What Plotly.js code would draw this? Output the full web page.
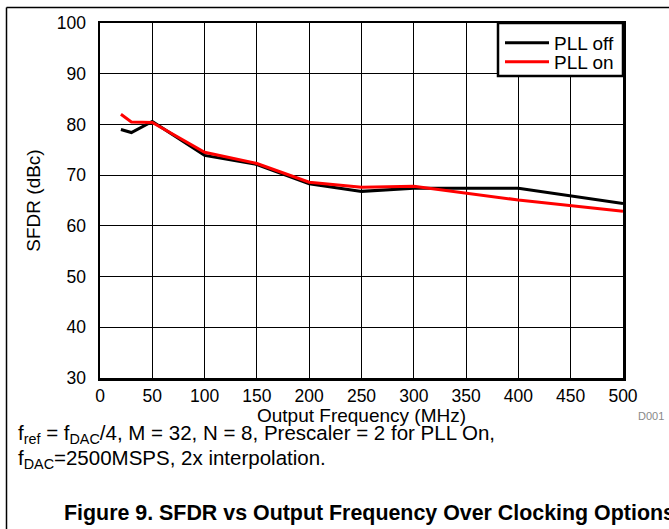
<!DOCTYPE html>
<html>
<head>
<meta charset="utf-8">
<script src="https://cdn.plot.ly/plotly-3.0.1.min.js"></script>
<style>html,body{margin:0;padding:0;background:#fff;}#chart{width:669px;height:529px;}</style>
</head>
<body>
<div id="chart"></div>
<script>
// Data
const freqMHz = [20, 30, 50, 100, 150, 200, 250, 300, 400, 500];
const pllOff  = [79.0, 78.4, 80.6, 73.9, 72.1, 68.3, 66.8, 67.4, 67.4, 64.4];
const pllOn   = [82.0, 80.5, 80.4, 74.5, 72.3, 68.6, 67.6, 67.8, 65.1, 62.9];
const seriesNames = ["PLL off", "PLL on"];
const xTicks = [0, 50, 100, 150, 200, 250, 300, 350, 400, 450, 500];
const yTicks = [30, 40, 50, 60, 70, 80, 90, 100];

const FONT = "Arial, 'Liberation Sans', sans-serif";
// plot area: x 100..623, y 23..378 in pixels
const L = 100, R = 623, T = 23, B = 378, W = 669, H = 529;
const px = v => (v - L) / (R - L);
const py = v => (B - v) / (B - T);

const traces = [
  {x: freqMHz, y: pllOff, name: seriesNames[0], mode: "lines", type: "scatter",
   line: {color: "#000000", width: 3}, legend: "legend"},
  {x: freqMHz, y: pllOn, name: seriesNames[1], mode: "lines", type: "scatter",
   line: {color: "#ff0000", width: 3}, legend: "legend2"}
];

const legendCommon = {xanchor: "left", yanchor: "top",
  bgcolor: "rgba(0,0,0,0)", borderwidth: 0,
  font: {family: FONT, size: 19, color: "#000"}, itemwidth: 44};

const layout = {
  width: W, height: H,
  margin: {l: L, r: W - R, t: T, b: H - B, pad: 0},
  paper_bgcolor: "#fff", plot_bgcolor: "#fff",
  font: {family: FONT, color: "#000", size: 17},
  showlegend: true,
  legend: Object.assign({x: px(500), y: py(24)}, legendCommon),
  legend2: Object.assign({x: px(500), y: py(43)}, legendCommon),
  xaxis: {range: [0, 500], tickvals: xTicks, ticktext: xTicks.map(String),
          showgrid: true, gridcolor: "#000", gridwidth: 1,
          showline: true, mirror: true, linecolor: "#000", linewidth: 2.5,
          ticks: "", zeroline: false, tickfont: {size: 17.5, family: FONT},
          title: {text: "Output Frequency (MHz)", font: {size: 19, family: FONT}, standoff: 0}},
  yaxis: {range: [30, 100], tickvals: yTicks, ticktext: yTicks.map(String),
          showgrid: true, gridcolor: "#000", gridwidth: 1,
          showline: true, mirror: true, linecolor: "#000", linewidth: 2.5,
          ticks: "outside", ticklen: 8, tickcolor: "rgba(0,0,0,0)",
          zeroline: false, tickfont: {size: 17.5, family: FONT},
          title: {text: "SFDR (dBc)", font: {size: 19, family: FONT}, standoff: 11}},
  shapes: [
    {type: "rect", xref: "paper", yref: "paper", x0: px(498), x1: px(623), y0: py(23), y1: py(76),
     fillcolor: "#fff", line: {color: "#000", width: 2.5}, layer: "above"},
    {type: "line", xref: "paper", yref: "paper", x0: px(6.5), x1: px(700), y0: py(7.5), y1: py(7.5),
     line: {color: "#000", width: 1.5}},
    {type: "line", xref: "paper", yref: "paper", x0: px(6.5), x1: px(6.5), y0: py(7.5), y1: py(540),
     line: {color: "#000", width: 1.5}}
  ],
  annotations: [
    {xref: "paper", yref: "paper", x: px(636), y: py(416), xanchor: "left", yanchor: "middle",
     text: "D001", showarrow: false, font: {size: 11, color: "#888", family: FONT}},
    {xref: "paper", yref: "paper", x: px(16), y: py(434), xanchor: "left", yanchor: "middle",
     text: "f<sub>ref</sub> = f<sub>DAC</sub>/4, M = 32, N = 8, Prescaler = 2 for PLL On,",
     showarrow: false, font: {size: 20.5, family: FONT}},
    {xref: "paper", yref: "paper", x: px(16), y: py(459), xanchor: "left", yanchor: "middle",
     text: "f<sub>DAC</sub>=2500MSPS, 2x interpolation.",
     showarrow: false, font: {size: 20.5, family: FONT}},
    {xref: "paper", yref: "paper", x: px(62), y: py(513), xanchor: "left", yanchor: "middle",
     text: "<b>Figure 9. SFDR vs Output Frequency Over Clocking Options</b>",
     showarrow: false, font: {size: 21.4, family: FONT}}
  ]
};

Plotly.newPlot("chart", traces, layout, {staticPlot: true, displayModeBar: false});
</script>
</body>
</html>
